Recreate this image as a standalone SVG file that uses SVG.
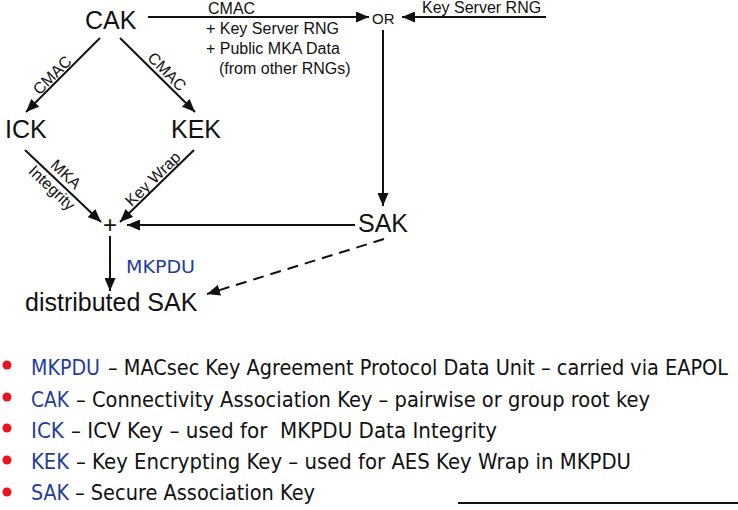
<svg xmlns="http://www.w3.org/2000/svg" width="738" height="510" viewBox="0 0 738 510">
<style>
.big{font-family:"Liberation Sans",Arial,sans-serif;font-size:25px;fill:#111}
.sm{font-family:"Liberation Sans",Arial,sans-serif;font-size:16px;fill:#111}
.rot{font-family:"Liberation Sans",Arial,sans-serif;font-size:16px;fill:#111}
.ln{stroke:#111;stroke-width:2;fill:none}
.dash{stroke-dasharray:11 7}
.leg{font-family:"DejaVu Sans",Verdana,sans-serif;font-size:22px;fill:#111;white-space:pre}
.blue{fill:#1f3d99}
.dot{fill:#e8141b}
</style>
<defs>
<marker id="ah" markerUnits="userSpaceOnUse" markerWidth="13" markerHeight="11" refX="13" refY="5.5" orient="auto">
<path d="M0,0 L13,5.5 L0,11 z" fill="#111"/>
</marker>
</defs>
<g id="connectors">
<line class="ln" x1="148" y1="17" x2="369" y2="17" marker-end="url(#ah)"/>
<line class="ln" x1="546" y1="17" x2="402" y2="17" marker-end="url(#ah)"/>
<line class="ln" x1="383" y1="30" x2="383" y2="206" marker-end="url(#ah)"/>
<line class="ln" x1="100" y1="38" x2="26" y2="112" marker-end="url(#ah)"/>
<line class="ln" x1="120" y1="38" x2="195" y2="112" marker-end="url(#ah)"/>
<line class="ln" x1="25" y1="150" x2="101" y2="222" marker-end="url(#ah)"/>
<line class="ln" x1="194" y1="150" x2="120" y2="222" marker-end="url(#ah)"/>
<line class="ln" x1="355" y1="225" x2="127" y2="225" marker-end="url(#ah)"/>
<line class="ln" x1="110" y1="236" x2="110" y2="291" marker-end="url(#ah)"/>
<line class="ln dash" x1="384" y1="239" x2="207" y2="294" marker-end="url(#ah)"/>
<text class="sm" x="208" y="14">CMAC</text>
<text class="sm" x="206" y="34">+ Key Server RNG</text>
<text class="sm" x="206" y="54">+ Public MKA Data</text>
<text class="sm" x="219" y="74">(from other RNGs)</text>
<text class="sm" x="422" y="13">Key Server RNG</text>
<text class="rot" text-anchor="middle" transform="translate(57.5,80.5) rotate(-45)" y="-2">CMAC</text>
<text class="rot" text-anchor="middle" transform="translate(160.3,78.3) rotate(45)" y="-4">CMAC</text>
<text class="rot" text-anchor="middle" transform="translate(58.6,181.9) rotate(43.5)" y="-5">MKA</text>
<text class="rot" text-anchor="middle" transform="translate(58.2,181.4) rotate(43.5)" y="14.5">Integrity</text>
<text class="rot" text-anchor="middle" transform="translate(158.4,184.6) rotate(-44.2)" y="-2.5">Key Wrap</text>
<text class="leg blue" x="126" y="273" style="font-size:17px" textLength="69" lengthAdjust="spacingAndGlyphs">MKPDU</text>
</g>
<g id="cak"><text class="big" x="85" y="29">CAK</text></g>
<g id="or"><text class="sm" x="372" y="24" style="font-size:15px">OR</text></g>
<g id="ick"><text class="big" x="5" y="138">ICK</text></g>
<g id="kek"><text class="big" x="171" y="138">KEK</text></g>
<g id="sak"><text class="big" x="358" y="232">SAK</text></g>
<g id="plus"><text class="big" x="110" y="233" text-anchor="middle" style="font-size:24px">+</text></g>
<g id="distributed-sak"><text class="big" x="25" y="311">distributed SAK</text></g>
<g id="legend">
<circle class="dot" cx="7" cy="365" r="4.5"/>
<text class="leg blue" x="31" y="375" textLength="69" lengthAdjust="spacingAndGlyphs">MKPDU</text>
<text class="leg" x="108" y="375" textLength="620" lengthAdjust="spacingAndGlyphs">– MACsec Key Agreement Protocol Data Unit – carried via EAPOL</text>
<circle class="dot" cx="7" cy="397" r="4.5"/>
<text class="leg blue" x="31" y="407" textLength="38" lengthAdjust="spacingAndGlyphs">CAK</text>
<text class="leg" x="76" y="407" textLength="574" lengthAdjust="spacingAndGlyphs">– Connectivity Association Key – pairwise or group root key</text>
<circle class="dot" cx="7" cy="428" r="4.5"/>
<text class="leg blue" x="31" y="438" textLength="33" lengthAdjust="spacingAndGlyphs">ICK</text>
<text class="leg" x="71" y="438" textLength="426" lengthAdjust="spacingAndGlyphs" xml:space="preserve">– ICV Key – used for  MKPDU Data Integrity</text>
<circle class="dot" cx="7" cy="460" r="4.5"/>
<text class="leg blue" x="31" y="469" textLength="38" lengthAdjust="spacingAndGlyphs">KEK</text>
<text class="leg" x="76" y="469" textLength="555" lengthAdjust="spacingAndGlyphs">– Key Encrypting Key – used for AES Key Wrap in MKPDU</text>
<circle class="dot" cx="7" cy="492" r="4.5"/>
<text class="leg blue" x="31" y="500" textLength="38" lengthAdjust="spacingAndGlyphs">SAK</text>
<text class="leg" x="75" y="500" textLength="240" lengthAdjust="spacingAndGlyphs">– Secure Association Key</text>
<line x1="458" y1="503" x2="738" y2="503" stroke="#111" stroke-width="2"/>
</g>
</svg>
